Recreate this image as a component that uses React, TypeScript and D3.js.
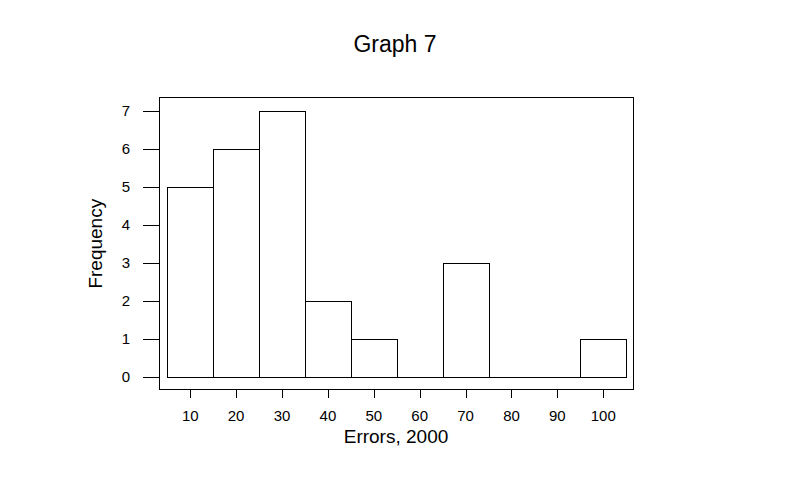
import React from "react";
import * as d3 from "d3";

const binStarts = [5, 15, 25, 35, 45, 55, 65, 75, 85, 95];
const binWidth = 10;
const counts = [5, 6, 7, 2, 1, 0, 3, 0, 0, 1];
const xTicks = [10, 20, 30, 40, 50, 60, 70, 80, 90, 100];
const yTicks = [0, 1, 2, 3, 4, 5, 6, 7];
const title = "Graph 7";
const xLabel = "Errors, 2000";
const yLabel = "Frequency";

const W = 794;
const H = 488;
const font = "'Liberation Sans', Arial, sans-serif";

export default function App() {
  const x = d3.scaleLinear().domain([5, 105]).range([167.3, 626.2]);
  const y = d3.scaleLinear().domain([0, 7]).range([376.7, 110.7]);
  const box = { l: 159.5, r: 633.5, t: 97.5, b: 389.5 };
  const r = (v: number) => Math.round(v) + 0.5;

  return (
    <svg
      width={W}
      height={H}
      style={{ position: "absolute", left: 0, top: 0, background: "#fff" }}
      fontFamily={font}
    >
      <rect width={W} height={H} fill="#fff" />
      <text x={395} y={52} textAnchor="middle" fontSize={23} fill="#000">
        {title}
      </text>
      {binStarts.map((s, i) => {
        const x0 = r(x(s));
        const x1 = r(x(s + binWidth));
        const y0 = r(y(0));
        const y1 = r(y(counts[i]));
        return (
          <path
            key={i}
            d={`M${x0},${y0}L${x0},${y1}L${x1},${y1}L${x1},${y0}Z`}
            fill="#fff"
            stroke="#000"
            strokeWidth={1}
            shapeRendering="crispEdges"
          />
        );
      })}
      <rect
        x={box.l}
        y={box.t}
        width={box.r - box.l}
        height={box.b - box.t}
        fill="none"
        stroke="#000"
        strokeWidth={1}
        shapeRendering="crispEdges"
      />
      {yTicks.map((t) => (
        <g key={"y" + t}>
          <line
            x1={143}
            x2={box.l}
            y1={r(y(t))}
            y2={r(y(t))}
            stroke="#000"
            shapeRendering="crispEdges"
          />
          <text
            x={130}
            y={y(t)}
            dy="0.35em"
            textAnchor="end"
            fontSize={15}
            fill="#000"
          >
            {t}
          </text>
        </g>
      ))}
      {xTicks.map((t) => (
        <g key={"x" + t}>
          <line
            x1={r(x(t))}
            x2={r(x(t))}
            y1={box.b}
            y2={398}
            stroke="#000"
            shapeRendering="crispEdges"
          />
          <text x={x(t)} y={421} textAnchor="middle" fontSize={15} fill="#000">
            {t}
          </text>
        </g>
      ))}
      <text x={396} y={443} textAnchor="middle" fontSize={19} fill="#000">
        {xLabel}
      </text>
      <text
        transform={`translate(102,${y(3.5)}) rotate(-90)`}
        textAnchor="middle"
        fontSize={19}
        fill="#000"
      >
        {yLabel}
      </text>
    </svg>
  );
}
